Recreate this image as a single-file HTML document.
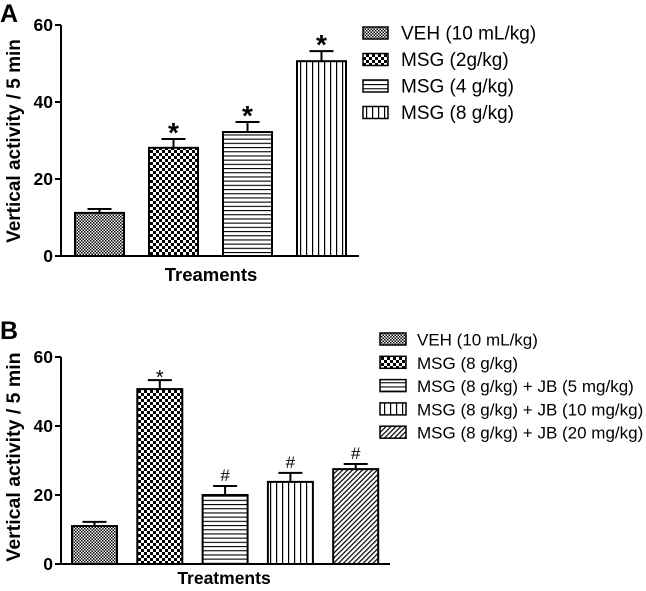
<!DOCTYPE html>
<html><head><meta charset="utf-8"><style>
body{margin:0;background:#fff;}
svg{display:block;font-family:"Liberation Sans",Arial,sans-serif;}
</style></head><body>
<svg id="s" width="646" height="591" viewBox="0 0 646 591">
<defs>
<pattern id="pVeh" width="3" height="3" patternUnits="userSpaceOnUse"><rect width="3" height="3" fill="#fff"/><rect width="1.5" height="1.5" fill="#000"/><rect x="1.5" y="1.5" width="1.5" height="1.5" fill="#000"/></pattern>
<pattern id="pMsg" width="6" height="6" patternUnits="userSpaceOnUse"><rect width="6" height="6" fill="#fff"/><rect width="3" height="3" fill="#000"/><rect x="3" y="3" width="3" height="3" fill="#000"/></pattern>
<pattern id="pH" width="4" height="4.2" patternUnits="userSpaceOnUse"><rect width="4" height="4.2" fill="#fff"/><rect y="0" width="4" height="1.1" fill="#000"/></pattern>
<pattern id="pV" width="6" height="4" patternUnits="userSpaceOnUse"><rect width="6" height="4" fill="#fff"/><rect x="0" width="1.2" height="4" fill="#000"/></pattern>
<pattern id="pD" width="3.5" height="3.5" patternUnits="userSpaceOnUse" patternTransform="rotate(45)"><rect width="3.5" height="3.5" fill="#fff"/><rect width="1.2" height="3.5" fill="#000"/></pattern>
</defs>
</svg>
<script>
const catsA=["VEH (10 mL/kg)","MSG (2g/kg)","MSG (4 g/kg)","MSG (8 g/kg)"];
const valsA=[11.2,28.1,32.2,50.6];
const errA=[1.0,2.3,2.6,2.6];
const sigA=["","*","*","*"];
const catsB=["VEH (10 mL/kg)","MSG (8 g/kg)","MSG (8 g/kg) + JB (5 mg/kg)","MSG (8 g/kg) + JB (10 mg/kg)","MSG (8 g/kg) + JB (20 mg/kg)"];
const valsB=[11.0,50.7,20.0,23.8,27.5];
const errB=[1.2,2.6,2.6,2.6,1.5];
const sigB=["","*","#","#","#"];
const ticks=[0,20,40,60];
const NS="http://www.w3.org/2000/svg";
const svg=document.getElementById('s');
function mk(t,a,p){const e=document.createElementNS(NS,t);for(const k in a)e.setAttribute(k,a[k]);(p||svg).appendChild(e);return e;}
function panel(o){
  const g=mk('g',{});
  
  
  const y=v=>o.y0-(v/60)*(o.y0-o.y60);
  const x=i=>o.x0+i*o.step;
  mk('line',{x1:o.ax,y1:o.y60,x2:o.ax,y2:o.y0+1,stroke:'#000','stroke-width':2},g);
  mk('line',{x1:o.ax-1,y1:o.y0,x2:o.axEnd,y2:o.y0,stroke:'#000','stroke-width':2},g);
  ticks.forEach(t=>{
    mk('line',{x1:o.ax-6,y1:y(t),x2:o.ax,y2:y(t),stroke:'#000','stroke-width':2},g);
    const tx=mk('text',{x:o.ax-8,y:y(t)+6,'text-anchor':'end','font-size':17.5,'font-weight':'bold'},g);
    tx.textContent=t;
    
    
  });
  o.vals.forEach((v,i)=>{
    const bx=x(i),top=y(v),et=y(v+o.err[i]),cx=bx+o.bw/2;
    const r=mk('rect',{x:bx,y:top,width:o.bw,height:o.y0-top,fill:'url(#'+o.pats[i]+')',stroke:'#000','stroke-width':2},g);
    
    
    mk('line',{x1:cx,y1:top,x2:cx,y2:et,stroke:'#000','stroke-width':2},g);
    mk('line',{x1:cx-12,y1:et,x2:cx+12,y2:et,stroke:'#000','stroke-width':2},g);
    if(o.sig[i]){
      const big=o.big&&o.sig[i]=='*';
      const s=mk('text',{x:cx,y:big?et+3:(o.sig[i]=='*'?et+4:et-5),'text-anchor':'middle','font-size':big?28:(o.sig[i]=='*'?20:17),'font-weight':big?'bold':'normal'},g);
      s.textContent=o.sig[i];
      
      
    }
  });
  const xt=mk('text',{x:o.xtX,y:o.xtY,'text-anchor':'middle','font-size':o.xtSize,'font-weight':'bold'},g);
  xt.textContent=o.xtitle;
  
  
  const yt=mk('text',{x:0,y:0,'text-anchor':'middle','font-size':o.ytSize,'font-weight':'bold',transform:'translate(20,'+o.ytY+') rotate(-90)'},g);
  yt.textContent='Vertical activity / 5 min';
  
  
  const pl=mk('text',{x:0,y:o.plY,'font-size':25,'font-weight':'bold'},g);
  pl.textContent=o.label;
  
  
  o.cats.forEach((c,i)=>{
    const ly=o.lgY+i*o.lgStep;
    const sw=mk('rect',{x:o.lgX,y:ly-6,width:o.swW,height:12,fill:'url(#'+o.pats[i]+')',stroke:'#000','stroke-width':1.5},g);
    
    
    const lt=mk('text',{x:o.lgTx,y:ly+6.5,'font-size':o.lgSize},g);
    lt.textContent=c;
    
    
  });
}
panel({name:'chart-a',label:'A',plY:22,cats:catsA,vals:valsA,err:errA,sig:sigA,pats:['pVeh','pMsg','pH','pV'],
  ax:61,axEnd:359,y0:256,y60:25,x0:75,step:74,bw:49,big:true,xtitle:'Treaments',xtX:211,xtY:281,xtSize:18.5,ytY:141,ytSize:19,
  lgX:363,lgTx:401,lgY:33,lgStep:26.5,swW:25,lgSize:19});
panel({name:'chart-b',label:'B',plY:339,cats:catsB,vals:valsB,err:errB,sig:sigB,pats:['pVeh','pMsg','pH','pV','pD'],
  ax:61,axEnd:390,y0:564,y60:357,x0:72,step:65.3,bw:45,big:false,xtitle:'Treatments',xtX:224,xtY:584,xtSize:17.5,ytY:457,ytSize:19.5,
  lgX:380,lgTx:417,lgY:339,lgStep:23.3,swW:26,lgSize:17});
</script>
</body></html>
